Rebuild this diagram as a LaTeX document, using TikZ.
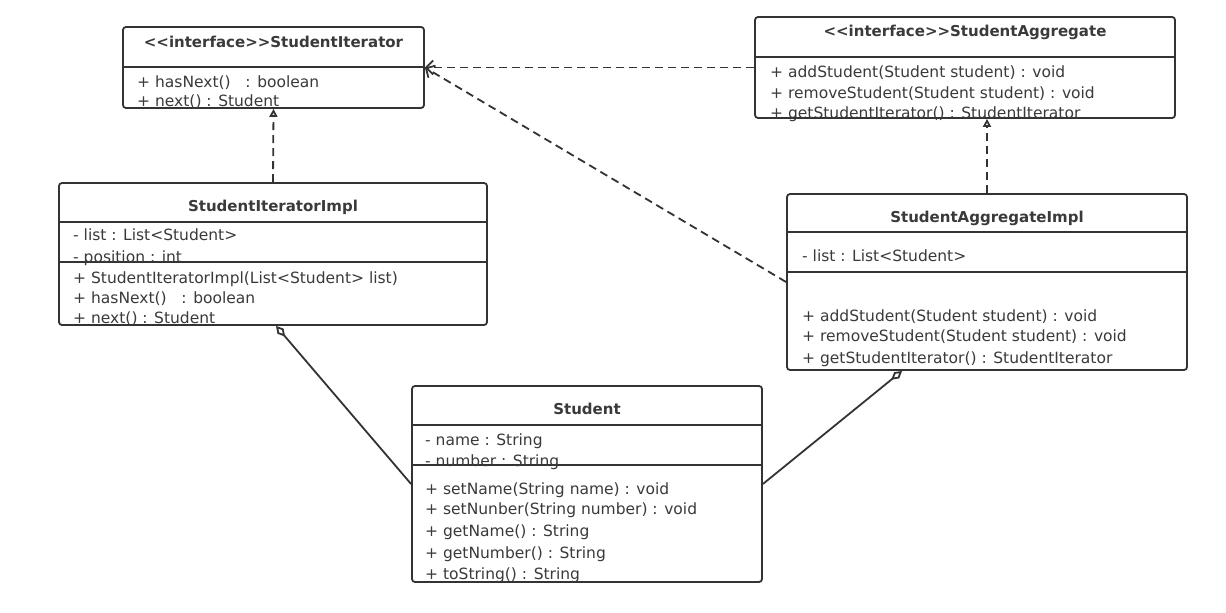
\documentclass[tikz,border=0pt]{standalone}
\usepackage{fontspec}
\setmainfont{DejaVu Sans}
\usetikzlibrary{arrows.meta,calc}
\definecolor{ln}{HTML}{333333}
\definecolor{tx}{HTML}{3a3a3a}
\begin{document}
\begin{tikzpicture}[x=1pt,y=-1pt,
 cls/.style={draw=ln, line width=1.8pt, rounded corners=3pt, fill=white, inner sep=0pt},
 sep/.style={draw=ln, line width=1.6pt},
 mem/.style={anchor=base west, inner sep=0pt, text=tx, font=\fontsize{15.5}{18}\selectfont},
 ttl/.style={anchor=base, inner sep=0pt, text=tx, font=\fontsize{15}{18}\selectfont\bfseries},
 real/.style={draw=ln, line width=1.8pt, dash pattern=on 8pt off 5pt, -{Triangle[open,length=8pt,width=8pt]}},
 dep/.style={draw=ln, line width=1.8pt, dash pattern=on 8pt off 5pt, -{Straight Barb[length=7pt,width=14pt]}},
 agg/.style={draw=ln, line width=1.8pt, {Diamond[open,length=14pt,width=8pt]}-},
]
\useasboundingbox[fill=white] (0,0) rectangle (1226,613);

% boxes
\node[cls, minimum width=301pt, minimum height=81pt] (si) at (273.5,67.5) {};
\node[cls, minimum width=420pt, minimum height=101pt] (sa) at (965,67.5) {};
\node[cls, minimum width=428pt, minimum height=142pt] (sii) at (273,254) {};
\node[cls, minimum width=400pt, minimum height=176pt] (sai) at (987,282) {};
\node[cls, minimum width=350pt, minimum height=196pt] (st) at (587,484) {};

% separators
\draw[sep] ($(si.north west)+(0,41)$) -- ($(si.north east)+(0,41)$);
\draw[sep] ($(sa.north west)+(0,41)$) -- ($(sa.north east)+(0,41)$);
\draw[sep] ($(sii.north west)+(0,40)$) -- ($(sii.north east)+(0,40)$);
\draw[sep] ($(sii.north west)+(0,80)$) -- ($(sii.north east)+(0,80)$);
\draw[sep] ($(sai.north west)+(0,39)$) -- ($(sai.north east)+(0,39)$);
\draw[sep] ($(sai.north west)+(0,79)$) -- ($(sai.north east)+(0,79)$);
\draw[sep] ($(st.north west)+(0,40)$) -- ($(st.north east)+(0,40)$);
\draw[sep] ($(st.north west)+(0,80)$) -- ($(st.north east)+(0,80)$);

% StudentIterator
\node[ttl] (si-t) at (273.5,47) {<{}<interface>{}>StudentIterator};
\node[mem] (si-1) at (137,87) {+ hasNext()\ \ \ : boolean};
\node[mem] (si-2) at (137,106) {+ next() : Student};

% StudentAggregate
\node[ttl] (sa-t) at (965,36) {<{}<interface>{}>StudentAggregate};
\node[mem] (sa-1) at (770,77) {+ addStudent(Student student) : void};
\node[mem] (sa-2) at (770,98) {+ removeStudent(Student student) : void};
\node[mem] (sa-3) at (770,118) {+ getStudentIterator() : StudentIterator};

% StudentIteratorImpl
\node[ttl] (sii-t) at (273,211) {StudentIteratorImpl};
\node[mem] (sii-1) at (73,240) {- list : List<Student>};
\node[mem] (sii-2) at (73,262) {- position : int};
\node[mem] (sii-3) at (73,283) {+ StudentIteratorImpl(List<Student> list)};
\node[mem] (sii-4) at (73,303) {+ hasNext()\ \ \ : boolean};
\node[mem] (sii-5) at (73,323) {+ next() : Student};

% StudentAggregateImpl
\node[ttl] (sai-t) at (987,222) {StudentAggregateImpl};
\node[mem] (sai-1) at (802,261) {- list : List<Student>};
\node[mem] (sai-2) at (802,321) {+ addStudent(Student student) : void};
\node[mem] (sai-3) at (802,341) {+ removeStudent(Student student) : void};
\node[mem] (sai-4) at (802,363) {+ getStudentIterator() : StudentIterator};

% Student
\node[ttl] (st-t) at (587,414) {Student};
\node[mem] (st-1) at (425,445) {- name : String};
\node[mem] (st-2) at (425,466) {- number : String};
\node[mem] (st-3) at (425,494) {+ setName(String name) : void};
\node[mem] (st-4) at (425,514) {+ setNunber(String number) : void};
\node[mem] (st-5) at (425,536) {+ getName() : String};
\node[mem] (st-6) at (425,558) {+ getNumber() : String};
\node[mem] (st-7) at (425,579) {+ toString() : String};

% connectors
\draw[real] (sii.north) -- (si.south);
\draw[real] (sai.north) -- (sai.north |- sa.south);
\draw[dep] (sa.west) -- (si.east);
\draw[dep] (sai.west) -- (si.east);
\draw[agg] ($(sii.south)+(3,0)$) -- (st.west);
\draw[agg] ($(sai.south west)+(116,0)$) -- (st.east);
\end{tikzpicture}
\end{document}
